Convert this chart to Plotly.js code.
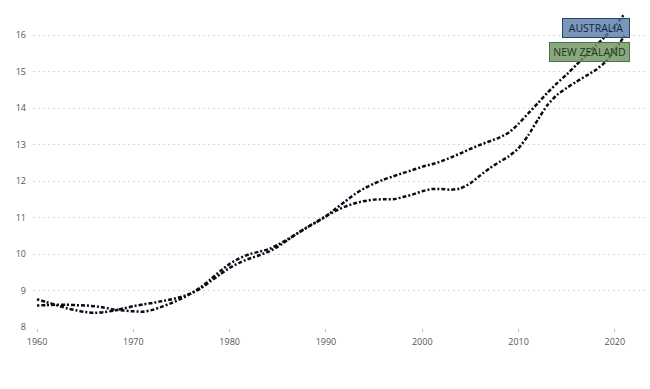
<!DOCTYPE html>
<html>
<head>
<meta charset="utf-8">
<script src="https://cdn.plot.ly/plotly-3.0.1.min.js"></script>
<style>html,body{margin:0;padding:0;background:#fff}#chart{width:650px;height:389px}</style>
</head>
<body>
<div id="chart"></div>
<script>
const years = [];
for (let y = 1960; y <= 2021; y++) years.push(y);

const australia = [
  8.59, 8.60, 8.61, 8.61, 8.60, 8.59, 8.57, 8.53, 8.48, 8.45,
  8.43, 8.42, 8.47, 8.56, 8.66, 8.78, 8.92, 9.09, 9.30, 9.53,
  9.73, 9.88, 9.99, 10.06, 10.13, 10.25, 10.40, 10.56, 10.72, 10.87,
  11.03, 11.24, 11.44, 11.64, 11.80, 11.93, 12.04, 12.13, 12.22, 12.30,
  12.39, 12.46, 12.54, 12.65, 12.76, 12.88, 12.99, 13.09, 13.19, 13.33,
  13.57, 13.85, 14.13, 14.42, 14.68, 14.92, 15.18, 15.45, 15.70, 15.96,
  16.24, 16.58
];
const newZealand = [
  8.76, 8.68, 8.60, 8.52, 8.46, 8.41, 8.39, 8.41, 8.45, 8.51,
  8.57, 8.62, 8.66, 8.71, 8.76, 8.83, 8.92, 9.06, 9.25, 9.44,
  9.62, 9.76, 9.87, 9.96, 10.06, 10.20, 10.38, 10.56, 10.73, 10.88,
  11.04, 11.18, 11.30, 11.39, 11.45, 11.49, 11.50, 11.50, 11.56, 11.63,
  11.72, 11.78, 11.78, 11.76, 11.80, 11.94, 12.15, 12.35, 12.52, 12.68,
  12.90, 13.25, 13.68, 14.08, 14.36, 14.55, 14.72, 14.88, 15.04, 15.26,
  15.58, 15.98
];
const xTicks = [1960, 1970, 1980, 1990, 2000, 2010, 2020];
const yTicks = [8, 9, 10, 11, 12, 13, 14, 15, 16];
const labels = ['AUSTRALIA', 'NEW ZEALAND'];

const lineStyle = {color: '#0b0b18', width: 2.5, dash: '2px,2px,4px,2px', shape: 'spline', smoothing: 0.6};

const traces = [
  {x: years, y: australia, name: labels[0], type: 'scatter', mode: 'lines', line: lineStyle, hoverinfo: 'none'},
  {x: years, y: newZealand, name: labels[1], type: 'scatter', mode: 'lines', line: lineStyle, hoverinfo: 'none'}
];

const layout = {
  width: 650, height: 389,
  margin: {l: 33, r: 5, t: 10, b: 61},
  paper_bgcolor: '#fff', plot_bgcolor: '#fff',
  showlegend: false,
  font: {family: 'Open Sans, sans-serif', size: 9, color: '#555'},
  xaxis: {
    range: [1959.58, 2023.13],
    tickvals: xTicks, ticktext: xTicks.map(String),
    showgrid: false, zeroline: false, showline: false,
    ticks: 'outside', ticklen: 3, tickcolor: '#bbb', tickwidth: 1,
    ticklabelstandoff: 2,
    tickfont: {size: 9, color: '#555'}
  },
  yaxis: {
    range: [7.973, 16.685],
    tickvals: yTicks, ticktext: yTicks.map(String),
    showgrid: true, gridcolor: '#d9d9d9', gridwidth: 1, griddash: '2px,3px',
    zeroline: false, showline: false, ticks: '',
    ticklabelstandoff: 6,
    tickfont: {size: 9, color: '#555'}
  },
  annotations: [
    {xref: 'paper', yref: 'paper', x: 0.9755, y: 0.943, xanchor: 'right', yanchor: 'middle',
     text: labels[0], showarrow: false, font: {family: 'Open Sans, sans-serif', size: 10.5, color: '#14234a'},
     bgcolor: 'rgba(90,125,165,0.8)', bordercolor: '#27456f', borderwidth: 1, borderpad: 2,
     width: 62, height: 14},
    {xref: 'paper', yref: 'paper', x: 0.9755, y: 0.868, xanchor: 'right', yanchor: 'middle',
     text: labels[1], showarrow: false, font: {family: 'Open Sans, sans-serif', size: 10.5, color: '#1b3518'},
     bgcolor: 'rgba(110,145,95,0.8)', bordercolor: '#4a7440', borderwidth: 1, borderpad: 2,
     width: 75, height: 14}
  ]
};

Plotly.newPlot('chart', traces, layout, {displayModeBar: false, staticPlot: true});
</script>
</body>
</html>
